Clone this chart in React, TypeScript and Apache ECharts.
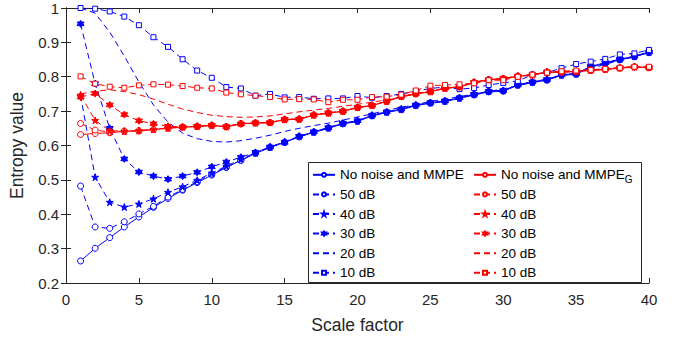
import React, { useEffect, useRef } from "react";
import * as echarts from "echarts";

const scaleFactor = [1,2,3,4,5,6,7,8,9,10,11,12,13,14,15,16,17,18,19,20,21,22,23,24,25,26,27,28,29,30,31,32,33,34,35,36,37,38,39,40];

const blueNoNoise = [0.264,0.301,0.332,0.363,0.392,0.420,0.446,0.470,0.492,0.514,0.536,0.557,0.577,0.594,0.609,0.625,0.638,0.650,0.663,0.670,0.686,0.696,0.704,0.716,0.723,0.728,0.737,0.747,0.756,0.758,0.775,0.783,0.790,0.804,0.807,0.828,0.839,0.849,0.858,0.870];
const blue50 = [0.482,0.363,0.359,0.378,0.401,0.423,0.450,0.472,0.495,0.517,0.537,0.557,0.578,0.595,0.610,0.626,0.639,0.651,0.664,0.671,0.687,0.697,0.705,0.717,0.724,0.729,0.738,0.748,0.757,0.759,0.776,0.784,0.791,0.805,0.808,0.829,0.840,0.850,0.859,0.871];
const blue40 = [0.746,0.508,0.435,0.421,0.430,0.445,0.464,0.480,0.499,0.520,0.540,0.560,0.579,0.596,0.611,0.627,0.640,0.652,0.665,0.672,0.688,0.698,0.706,0.718,0.725,0.730,0.739,0.749,0.758,0.760,0.777,0.785,0.792,0.806,0.809,0.830,0.841,0.851,0.860,0.872];
const blue30 = [0.954,0.780,0.650,0.561,0.523,0.511,0.502,0.511,0.522,0.538,0.552,0.566,0.580,0.596,0.609,0.627,0.640,0.652,0.665,0.672,0.688,0.698,0.706,0.718,0.725,0.730,0.739,0.749,0.758,0.760,0.777,0.785,0.792,0.806,0.809,0.830,0.841,0.851,0.860,0.872];
const blue20 = [1.000,0.985,0.930,0.860,0.785,0.718,0.668,0.636,0.620,0.612,0.610,0.614,0.621,0.630,0.641,0.650,0.658,0.665,0.674,0.683,0.692,0.702,0.711,0.719,0.728,0.735,0.742,0.750,0.757,0.765,0.774,0.784,0.794,0.803,0.812,0.824,0.836,0.848,0.858,0.872];
const blue10 = [1.000,0.998,0.990,0.975,0.950,0.915,0.887,0.851,0.818,0.797,0.770,0.766,0.745,0.750,0.740,0.741,0.736,0.737,0.737,0.744,0.739,0.744,0.750,0.758,0.766,0.770,0.764,0.767,0.776,0.782,0.788,0.806,0.812,0.825,0.837,0.844,0.852,0.865,0.868,0.878];

const redNoNoise = [0.632,0.635,0.637,0.641,0.642,0.646,0.650,0.653,0.655,0.658,0.654,0.663,0.665,0.666,0.675,0.676,0.688,0.694,0.699,0.710,0.716,0.728,0.742,0.750,0.756,0.766,0.770,0.783,0.791,0.794,0.801,0.805,0.813,0.813,0.815,0.818,0.821,0.825,0.828,0.826];
const red50 = [0.664,0.645,0.639,0.642,0.643,0.647,0.651,0.654,0.656,0.659,0.655,0.664,0.666,0.667,0.676,0.677,0.689,0.695,0.700,0.711,0.717,0.729,0.743,0.751,0.757,0.767,0.771,0.784,0.792,0.795,0.802,0.806,0.814,0.814,0.816,0.819,0.822,0.826,0.829,0.827];
const red40 = [0.747,0.673,0.643,0.642,0.644,0.647,0.651,0.654,0.656,0.659,0.655,0.664,0.666,0.667,0.676,0.677,0.689,0.695,0.700,0.711,0.717,0.729,0.743,0.751,0.757,0.767,0.771,0.784,0.792,0.795,0.802,0.806,0.814,0.814,0.816,0.819,0.822,0.826,0.829,0.827];
const red30 = [0.741,0.751,0.718,0.690,0.672,0.663,0.656,0.654,0.656,0.659,0.655,0.663,0.666,0.667,0.676,0.677,0.689,0.695,0.700,0.711,0.717,0.729,0.743,0.751,0.757,0.767,0.771,0.784,0.792,0.795,0.802,0.806,0.814,0.814,0.816,0.819,0.822,0.826,0.829,0.827];
const red20 = [0.750,0.758,0.762,0.757,0.748,0.735,0.720,0.706,0.696,0.688,0.684,0.682,0.683,0.686,0.692,0.698,0.703,0.708,0.714,0.720,0.726,0.733,0.741,0.750,0.757,0.766,0.772,0.781,0.789,0.795,0.801,0.806,0.812,0.815,0.817,0.820,0.823,0.826,0.828,0.828];
const red10 = [0.801,0.780,0.771,0.768,0.775,0.778,0.777,0.773,0.768,0.766,0.754,0.749,0.745,0.741,0.734,0.735,0.734,0.726,0.733,0.733,0.741,0.742,0.748,0.760,0.774,0.776,0.778,0.781,0.790,0.790,0.800,0.806,0.812,0.816,0.818,0.820,0.823,0.826,0.829,0.829];

const xTicks = { min: 0, max: 40, interval: 5 };
const yTicks = { min: 0.2, max: 1, interval: 0.1 };

const blueNames = ["No noise and MMPE", "50 dB ", "40 dB ", "30 dB ", "20 dB ", "10 dB "];
const redNames = ["No noise and MMPE_G", "50 dB", "40 dB", "30 dB", "20 dB", "10 dB"];

const STAR = "path://M50 0 L61.23 34.55 L97.55 34.55 L68.17 55.9 L79.39 90.45 L50 69.1 L20.61 90.45 L31.83 55.9 L2.45 34.55 L38.77 34.55 Z";
const HEX = "path://M50 0 L64.43 25 L93.3 25 L78.87 50 L93.3 75 L64.43 75 L50 100 L35.57 75 L6.7 75 L21.13 50 L6.7 25 L35.57 25 Z";

const FONT = "'Liberation Sans', Arial, Helvetica, sans-serif";
const AX = "#262626";

function mk(name: string, vals: number[], color: string, dashed: boolean, symbol: string, size: number, filled: boolean) {
  return {
    name,
    type: "line",
    data: scaleFactor.map((x, i) => [x, vals[i]]),
    symbol,
    symbolSize: size,
    showSymbol: symbol !== "none",
    lineStyle: { color, width: 1, type: dashed ? [6, 4] : "solid" },
    itemStyle: { color: filled ? color : "#fff", borderColor: color, borderWidth: 1 },
    emphasis: { disabled: true },
    z: 2,
  };
}

const hiddenIcon = { color: "rgba(0,0,0,0)", borderColor: "rgba(0,0,0,0)", borderWidth: 0 };

export default function App() {
  const ref = useRef<HTMLDivElement>(null);
  useEffect(() => {
    if (!ref.current) return;
    const chart = echarts.init(ref.current, null, { renderer: "svg" });
    const blue = "#0000ff";
    const red = "#ff0000";
    const series = [
      mk(blueNames[0], blueNoNoise, blue, false, "circle", 6, false),
      mk(blueNames[1], blue50, blue, true, "circle", 6, false),
      mk(blueNames[2], blue40, blue, true, STAR, 7, true),
      mk(blueNames[3], blue30, blue, true, HEX, 7, true),
      mk(blueNames[4], blue20, blue, true, "none", 4, false),
      mk(blueNames[5], blue10, blue, true, "rect", 5, false),
      mk(redNames[0], redNoNoise, red, false, "circle", 6, false),
      mk(redNames[1], red50, red, true, "circle", 6, false),
      mk(redNames[2], red40, red, true, STAR, 7, true),
      mk(redNames[3], red30, red, true, HEX, 7, true),
      mk(redNames[4], red20, red, true, "none", 4, false),
      mk(redNames[5], red10, red, true, "rect", 5, false),
    ];
    const legendText = {
      fontFamily: FONT,
      fontSize: 13.5,
      color: "#000",
      lineHeight: 19.6,
      rich: {
        n: { fontFamily: FONT, fontSize: 13.5, color: "#000", lineHeight: 19.6 },
        sub: { fontFamily: FONT, fontSize: 10, color: "#000", lineHeight: 10, verticalAlign: "bottom" },
      },
    };
    const legendCommon = {
      orient: "vertical",
      top: 165,
      itemWidth: 22,
      itemHeight: 5,
      itemGap: 0,
      padding: 0,
      textStyle: legendText,
      selectedMode: false,
      z: 6,
    };
    const toItems = (names: string[]) =>
      names.map((n) => (n.trim() === "20 dB" ? { name: n, itemStyle: hiddenIcon } : { name: n }));
    chart.setOption({
      animation: false,
      textStyle: { fontFamily: FONT },
      grid: { left: 60, right: 26, top: 8, bottom: 51, containLabel: false },
      xAxis: [
        {
          type: "value", ...xTicks,
          name: "Scale factor", nameLocation: "middle", nameGap: 33,
          nameTextStyle: { fontFamily: FONT, fontSize: 17.5, color: AX },
          axisLine: { show: true, lineStyle: { color: AX, width: 1 } },
          axisTick: { show: true, inside: true, length: 5, lineStyle: { color: AX } },
          axisLabel: { fontFamily: FONT, fontSize: 15, color: AX, margin: 9 },
          splitLine: { show: false },
        },
        {
          type: "value", ...xTicks, position: "top",
          axisLine: { show: true, lineStyle: { color: AX, width: 1 } },
          axisTick: { show: true, inside: true, length: 5, lineStyle: { color: AX } },
          axisLabel: { show: false },
          splitLine: { show: false },
        },
      ],
      yAxis: [
        {
          type: "value", ...yTicks,
          name: "Entropy value", nameLocation: "middle", nameGap: 40, nameRotate: 90,
          nameTextStyle: { fontFamily: FONT, fontSize: 17.5, color: AX },
          axisLine: { show: true, lineStyle: { color: AX, width: 1 } },
          axisTick: { show: true, inside: true, length: 5, lineStyle: { color: AX } },
          axisLabel: {
            fontFamily: FONT, fontSize: 15, color: AX, margin: 7,
            formatter: (v: number) => String(Math.round(v * 10) / 10),
          },
          splitLine: { show: false },
        },
        {
          type: "value", ...yTicks, position: "right",
          axisLine: { show: true, lineStyle: { color: AX, width: 1 } },
          axisTick: { show: true, inside: true, length: 5, lineStyle: { color: AX } },
          axisLabel: { show: false },
          splitLine: { show: false },
        },
      ],
      legend: [
        { ...legendCommon, left: 312, data: toItems(blueNames), formatter: (n: string) => "{n|" + n.trim() + "}" },
        {
          ...legendCommon, left: 473, data: toItems(redNames),
          formatter: (n: string) => (n.endsWith("_G") ? "{n|No noise and MMPE}{sub|G}" : "{n|" + n + "}"),
        },
      ],
      graphic: [
        {
          type: "rect", z: 5,
          shape: { x: 308.5, y: 162.5, width: 333, height: 120 },
          style: { fill: "#fff", stroke: AX, lineWidth: 1 },
        },
      ],
      series,
    });
    return () => chart.dispose();
  }, []);
  return <div ref={ref} style={{ position: "fixed", left: 0, top: 0, width: 675, height: 339, background: "#fff" }} />;
}
